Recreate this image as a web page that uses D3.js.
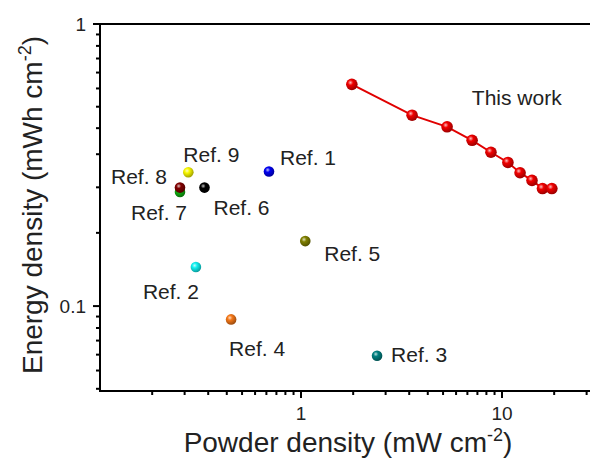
<!DOCTYPE html>
<html>
<head>
<meta charset="utf-8">
<script src="https://cdnjs.cloudflare.com/ajax/libs/d3/7.8.5/d3.min.js"></script>
<style>
  body { margin: 0; background: #fff; }
  svg { display: block; font-family: Arial, "Liberation Sans", sans-serif; }
</style>
</head>
<body>
<div id="chart"></div>
<script>
// data
var workPower  = [1.79, 3.57, 5.33, 7.1, 8.81, 10.7, 12.3, 14.1, 15.9, 17.7];
var workEnergy = [0.611, 0.475, 0.432, 0.387, 0.351, 0.323, 0.297, 0.279, 0.261, 0.261];

// drawn in this order (Ref. 7 sits under Ref. 8)
var refNames  = ["Ref. 1", "Ref. 2", "Ref. 3", "Ref. 4", "Ref. 5", "Ref. 6", "Ref. 7", "Ref. 8", "Ref. 9"];
var refPower  = [0.693, 0.30, 2.39, 0.449, 1.05, 0.331, 0.25, 0.25, 0.275];
var refEnergy = [0.30, 0.1375, 0.0667, 0.0897, 0.170, 0.263, 0.254, 0.263, 0.298];
var refColors = ["#0000f0", "#10f0f0", "#008080", "#f57818", "#808000", "#000000", "#10b010", "#800000", "#f8f800"];

var xLabels = [1, 10];
var yLabels = [0.1, 1];
var xDecades = [0.1, 1, 10];
var yDecades = [0.01, 0.1, 1];
var minorPerDecade = 10;   // linear minor ticks, Origin style

// label placement, offsets from the point (left edge / text centre)
var labelOffsets = [[11, -14], [-53, 24], [14, -1], [-2, 29], [19, 12], [9, 20], [-49, 21], [-69, -11], [-5, -18]];

var width = 590, height = 459;
var margin = {left: 100, top: 24, bottom: 68};

var svg = d3.select("#chart").append("svg")
  .attr("width", width)
  .attr("height", height);

var x = d3.scaleLog().domain([0.1, 30]).range([margin.left, margin.left + 201 * Math.log10(300)]);
var y = d3.scaleLog().domain([0.05, 1]).range([height - margin.bottom, margin.top]);

// minor ticks: evenly spaced in value inside each decade
function minorTicks(decades, scale) {
  var dom = scale.domain(), out = [];
  decades.forEach(function(d) {
    for (var k = 1; k <= minorPerDecade; k++) {
      var v = d * (1 + k * 9 / (minorPerDecade + 1));
      if (v > dom[0] && v < dom[1]) out.push(v);
    }
  });
  return out;
}

// sphere look for the markers
var defs = svg.append("defs");
function sphere(id, color) {
  var g = defs.append("radialGradient")
    .attr("id", id)
    .attr("cx", "0.38").attr("cy", "0.35").attr("r", "0.65");
  g.append("stop").attr("offset", "0").attr("stop-color", d3.interpolateRgb(color, "#fff")(0.75));
  g.append("stop").attr("offset", "0.35").attr("stop-color", color);
  g.append("stop").attr("offset", "1").attr("stop-color", d3.interpolateRgb(color, "#000")(0.35));
  return "url(#" + id + ")";
}

var x0 = x.range()[0], x1 = x.range()[1], y0 = y.range()[0], y1 = y.range()[1];

// frame (right side falls outside the picture)
svg.append("path")
  .attr("d", "M" + x1 + "," + y1 + "H" + x0 + "V" + y0 + "H" + x1)
  .attr("fill", "none")
  .attr("stroke", "#000")
  .attr("stroke-width", 2);

// ticks
var xt = minorTicks(xDecades, x).map(function(d) { return [d, 4]; })
  .concat(xLabels.map(function(d) { return [d, 7]; }));
svg.append("g").selectAll("line").data(xt).enter().append("line")
  .attr("x1", function(d) { return x(d[0]); })
  .attr("x2", function(d) { return x(d[0]); })
  .attr("y1", y0)
  .attr("y2", function(d) { return y0 + d[1]; })
  .attr("stroke", "#000")
  .attr("stroke-width", 2);

var yt = minorTicks(yDecades, y).map(function(d) { return [d, 4]; })
  .concat(yLabels.map(function(d) { return [d, 7]; }));
svg.append("g").selectAll("line").data(yt).enter().append("line")
  .attr("x1", x0)
  .attr("x2", function(d) { return x0 - d[1]; })
  .attr("y1", function(d) { return y(d[0]); })
  .attr("y2", function(d) { return y(d[0]); })
  .attr("stroke", "#000")
  .attr("stroke-width", 2);

svg.append("g").selectAll("text").data(xLabels).enter().append("text")
  .attr("x", function(d) { return x(d); })
  .attr("y", y0 + 29)
  .attr("text-anchor", "middle")
  .attr("font-size", 19)
  .attr("fill", "#222")
  .text(function(d) { return d; });

svg.append("g").selectAll("text").data(yLabels).enter().append("text")
  .attr("x", x0 - 14)
  .attr("y", function(d) { return y(d); })
  .attr("dy", "0.36em")
  .attr("text-anchor", "end")
  .attr("font-size", 19)
  .attr("fill", "#222")
  .text(function(d) { return d; });

// axis titles
var xt1 = svg.append("text")
  .attr("x", 348)
  .attr("y", 452)
  .attr("text-anchor", "middle")
  .attr("font-size", 28)
  .attr("fill", "#222");
xt1.append("tspan").text("Powder density (mW cm");
xt1.append("tspan").attr("font-size", 18).attr("dy", -11).text("-2");
xt1.append("tspan").attr("dy", 11).text(")");

var yt1 = svg.append("text")
  .attr("transform", "translate(42,205) rotate(-90)")
  .attr("text-anchor", "middle")
  .attr("font-size", 28)
  .attr("fill", "#222");
yt1.append("tspan").text("Energy density (mWh cm");
yt1.append("tspan").attr("font-size", 18).attr("dy", -11).text("-2");
yt1.append("tspan").attr("dy", 11).text(")");

// this work
var line = d3.line()
  .x(function(d, i) { return x(workPower[i]); })
  .y(function(d) { return y(d); });

svg.append("path")
  .datum(workEnergy)
  .attr("d", line)
  .attr("fill", "none")
  .attr("stroke", "#e00000")
  .attr("stroke-width", 2);

var redFill = sphere("g_work", "#f00000");
svg.append("g").selectAll("circle").data(workEnergy).enter().append("circle")
  .attr("cx", function(d, i) { return x(workPower[i]); })
  .attr("cy", function(d) { return y(d); })
  .attr("r", 5.8)
  .attr("fill", redFill);

svg.append("text")
  .attr("x", x(workPower[0]) + 120)
  .attr("y", y(workEnergy[0]) + 13)
  .attr("dy", "0.36em")
  .attr("font-size", 21)
  .attr("fill", "#222")
  .text("This work");

// references
refNames.forEach(function(name, i) {
  var cx = x(refPower[i]), cy = y(refEnergy[i]);
  svg.append("circle")
    .attr("cx", cx)
    .attr("cy", cy)
    .attr("r", 5.3)
    .attr("fill", sphere("g_ref" + i, refColors[i]));
  svg.append("text")
    .attr("x", cx + labelOffsets[i][0])
    .attr("y", cy + labelOffsets[i][1])
    .attr("dy", "0.36em")
    .attr("font-size", 21)
    .attr("fill", "#222")
    .text(name);
});
</script>
</body>
</html>
